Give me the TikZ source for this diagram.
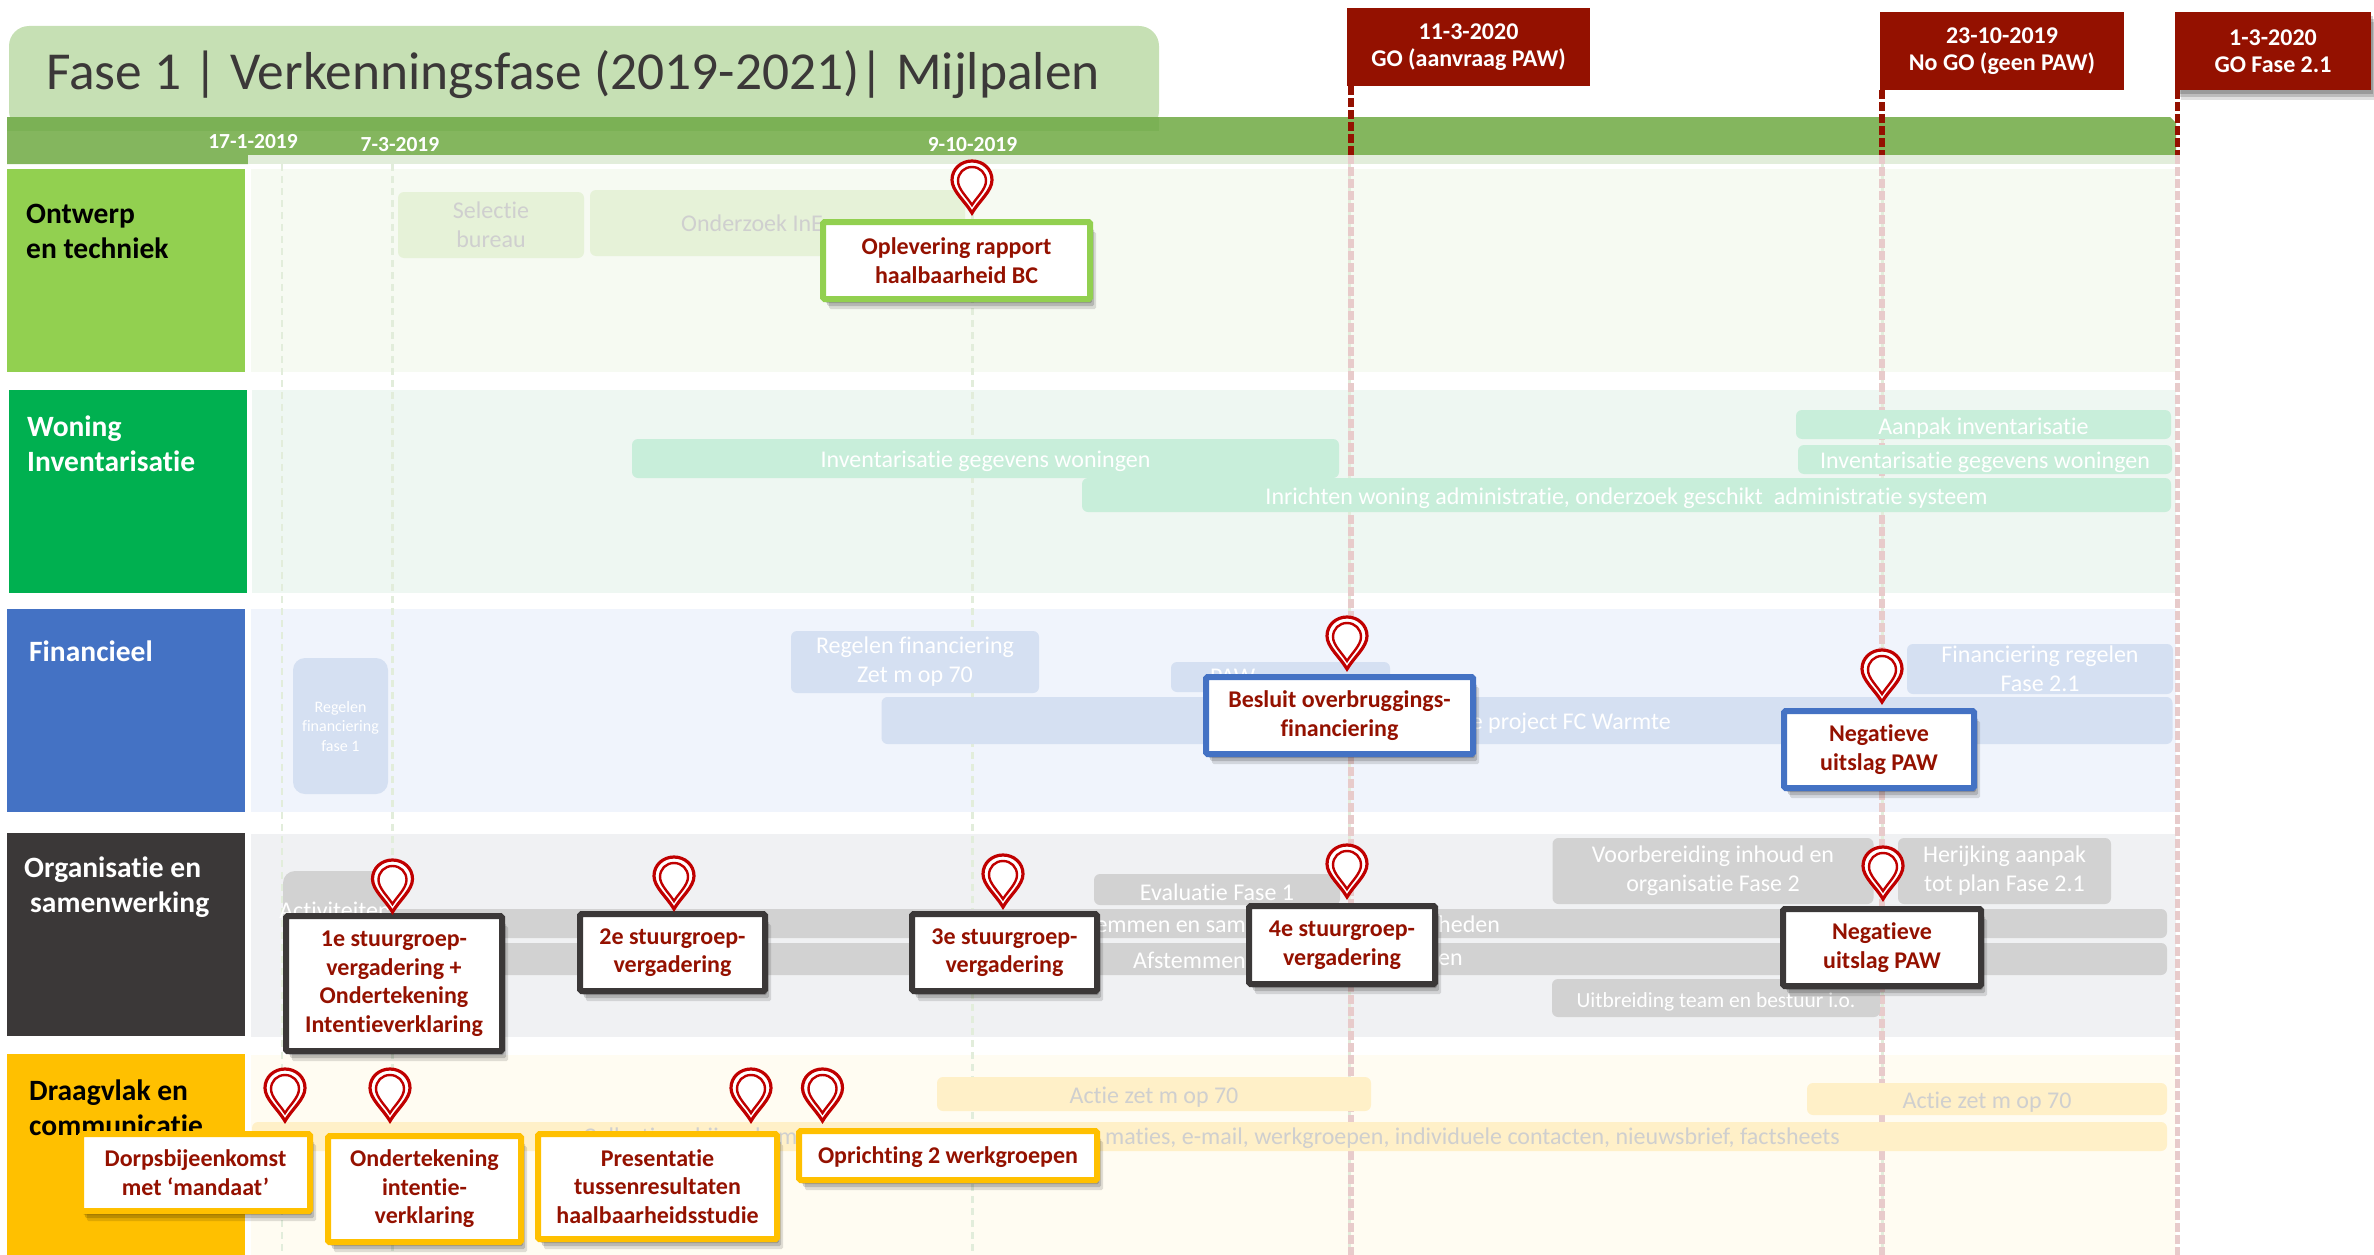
\documentclass[tikz,border=0pt]{standalone}
\usepackage{fontspec}
\setmainfont{Carlito}[Ligatures=NoCommon]
\usetikzlibrary{shadows}

\definecolor{titelgroen}{HTML}{C6E0B4}
\definecolor{balkgroen}{HTML}{84B65E}
\definecolor{balkover}{HTML}{7BB155}
\definecolor{stripgroen}{HTML}{E2EDDB}
\definecolor{rijontwerp}{HTML}{92D050}
\definecolor{rijwoning}{HTML}{00B050}
\definecolor{rijfinancieel}{HTML}{4472C4}
\definecolor{rijorganisatie}{HTML}{3B3838}
\definecolor{rijdraagvlak}{HTML}{FFC000}
\definecolor{vlakontwerp}{HTML}{F6FAF2}
\definecolor{vlakwoning}{HTML}{EEF7F2}
\definecolor{vlakfinancieel}{HTML}{F0F4FC}
\definecolor{vlakorganisatie}{HTML}{F0F1F3}
\definecolor{vlakdraagvlak}{HTML}{FFFCF2}
\definecolor{blokontwerp}{HTML}{E6F2D8}
\definecolor{blokwoning}{HTML}{C8EEDA}
\definecolor{blokfinancieel}{HTML}{D5E0F2}
\definecolor{blokorganisatie}{HTML}{D2D2D2}
\definecolor{blokdraagvlak}{HTML}{FFF0C8}
\definecolor{tekstgrijs}{HTML}{CFCFCF}
\definecolor{mijlrood}{HTML}{941100}
\definecolor{speldrood}{HTML}{C00000}
\definecolor{bleekrood}{HTML}{E8CBCB}
\definecolor{bleekgroen}{HTML}{E2EDDB}

\tikzset{
  rijkop/.style={inner sep=0, anchor=north west, align=left, font=\fontsize{29.5}{35}\bfseries\selectfont},
  blok/.style={inner sep=0, rounded corners=6, font=\fontsize{24}{29}\selectfont, text=white, align=center, execute at begin node={\rule{0pt}{23pt}}},
  bloklaag/.style={blok, execute at begin node={\rule{0pt}{28pt}}},
  blokgroot/.style={blok, rounded corners=12},
  tekstje/.style={inner sep=0, font=\fontsize{24}{29}\selectfont, text=white},
  datum/.style={inner sep=0, font=\fontsize{21.5}{24}\bfseries\selectfont, text=white},
  kopbox/.style={inner sep=0, fill=mijlrood, text=white, align=center, font=\fontsize{24}{27.5}\bfseries\selectfont, execute at begin node={\rule{0pt}{28pt}}},
  schaduw/.style={
    drop shadow={shadow xshift=2pt, shadow yshift=-4pt, opacity=.18, fill=black},
    drop shadow={shadow xshift=4pt, shadow yshift=-7pt, opacity=.16, fill=black},
    drop shadow={shadow xshift=6pt, shadow yshift=-10pt, opacity=.12, fill=black}},
  mijlpaal/.style={schaduw, inner sep=0, fill=white, line width=6, rounded corners=1.5, text=mijlrood, align=center, font=\fontsize{24}{28.5}\bfseries\selectfont, execute at begin node={\rule{0pt}{20pt}}},
  mijlpaallaag/.style={mijlpaal, execute at begin node={\rule{0pt}{25pt}}},
  datumlijn/.style={bleekgroen, line width=2.5, dash pattern=on 7 off 5},
  lijnsterk/.style={mijlrood, line width=5.5, dash pattern=on 9 off 3},
  lijnbleek/.style={bleekrood, line width=5.5, dash pattern=on 9 off 3},
  speld/.pic={
    \fill[white] (0,0) .. controls (-7,-12) and (-20,-22) .. (-20,-33) .. controls (-20,-44) and (-11,-52) .. (0,-52) .. controls (11,-52) and (20,-44) .. (20,-33) .. controls (20,-22) and (7,-12) .. (0,0) -- cycle;
    \draw[speldrood, line width=3.2, line join=miter] (0,0) .. controls (-7,-12) and (-20,-22) .. (-20,-33) .. controls (-20,-44) and (-11,-52) .. (0,-52) .. controls (11,-52) and (20,-44) .. (20,-33) .. controls (20,-22) and (7,-12) .. (0,0) -- cycle;
    \draw[speldrood, line width=2.4, line join=miter] (0,-8) .. controls (-5,-16) and (-14,-24) .. (-14,-32) .. controls (-14,-40) and (-8,-46) .. (0,-46) .. controls (8,-46) and (14,-40) .. (14,-32) .. controls (14,-24) and (5,-16) .. (0,-8) -- cycle;
  }
}

\begin{document}
\begin{tikzpicture}[x=1pt, y=-1pt]
  \useasboundingbox (0,0) rectangle (2374,1255);

  \fill[titelgroen, rounded corners=20] (9,26) -- (1159,26) -- (1159,131) -- (9,131) -- cycle;
  \fill[balkgroen] (7,117) -- (2170,117) -- (2176,123) -- (2176,155) -- (248,155) -- (248,164) -- (7,164) -- cycle;
  \fill[balkover] (7,117) rectangle (1159,131);
  \fill[stripgroen] (248,155) rectangle (2176,164);
  \node[inner sep=0, anchor=west, text=rijorganisatie, font=\fontsize{53.4}{60}\selectfont] (titel) at (46,75) {Fase 1 | Verkenningsfase (2019-2021)| Mijlpalen};

  \node[datum] (d1) at (253,142) {17-1-2019};
  \node[datum] (d2) at (400,145) {7-3-2019};
  \node[datum] (d3) at (972.5,145) {9-10-2019};

  \fill[vlakontwerp] (251,169) rectangle (2176,372);
  \fill[vlakwoning] (252,390) rectangle (2176,593);
  \fill[vlakfinancieel] (251,609) rectangle (2176,812);
  \fill[vlakorganisatie] (251,834) rectangle (2176,1037);
  \fill[vlakdraagvlak] (251,1055) rectangle (2176,1255);

  \fill[rijontwerp] (7,169) rectangle (245,372);
  \fill[rijwoning] (9,390) rectangle (247,593);
  \fill[rijfinancieel] (7,609) rectangle (245,812);
  \fill[rijorganisatie] (7,833) rectangle (245,1036);
  \fill[rijdraagvlak] (7,1054) rectangle (245,1255);
  \node[rijkop] (r1) at (26,204) {Ontwerp\\en techniek};
  \node[rijkop, text=white] (r2) at (27,416) {Woning\\Inventarisatie};
  \node[rijkop, text=white] (r3) at (29,641) {Financieel};
  \node[rijkop, text=white] (r4) at (24,857) {Organisatie en\\\hspace*{6pt}samenwerking};
  \node[rijkop] (r5) at (29,1080) {Draagvlak en\\communicatie};

  \coordinate (l1) at (282,164);
  \coordinate (l1e) at (282,1255);
  \coordinate (l2) at (392.5,164);
  \coordinate (l2e) at (392.5,1255);
  \coordinate (l3) at (972.5,164);
  \coordinate (l3e) at (972.5,1255);
  \coordinate (l4) at (1349.5,164);
  \coordinate (l4e) at (1349.5,1255);
  \coordinate (l5) at (1882.5,164);
  \coordinate (l5e) at (1882.5,1255);
  \draw[datumlijn] (l1) -- (l1e);
  \draw[datumlijn] (l2) -- (l2e);
  \draw[datumlijn] (l3) -- (l3e);
  \draw[datumlijn] (l4) -- (l4e);
  \draw[datumlijn] (l5) -- (l5e);

  \node[kopbox, schaduw, minimum width=196, minimum height=78] (k3) at (2273,51) {1-3-2020\\GO Fase 2.1};
  \node[kopbox, minimum width=243, minimum height=78] (k1) at (1468.5,47) {11-3-2020\\GO (aanvraag PAW)};
  \node[kopbox, minimum width=244, minimum height=78] (k2) at (2002,51) {23-10-2019\\No GO (geen PAW)};
  \coordinate (s1a) at (1351,86);
  \coordinate (s1b) at (1351,155);
  \coordinate (s1c) at (1351,1255);
  \coordinate (s2a) at (1882,90);
  \coordinate (s2b) at (1882,155);
  \coordinate (s2c) at (1882,1255);
  \coordinate (s3a) at (2177.5,90);
  \coordinate (s3b) at (2177.5,155);
  \coordinate (s3c) at (2177.5,1255);
  \draw[lijnbleek] (s1b) -- (s1c);
  \draw[lijnbleek] (s2b) -- (s2c);
  \draw[lijnbleek] (s3b) -- (s3c);
  \draw[lijnsterk] (s1a) -- (s1b);
  \draw[lijnsterk] (s2a) -- (s2b);
  \draw[lijnsterk] (s3a) -- (s3b);

  \node[blok, fill=blokontwerp, text=tekstgrijs, minimum width=186, minimum height=66] (a1) at (491,225) {Selectie\\bureau};
  \node[blok, fill=blokontwerp, minimum width=375, minimum height=66] (a2) at (777.5,223) {};
  \node[tekstje, text=tekstgrijs, anchor=west] (a2t) at (681,223) {Onderzoek InE};

  \node[blok, fill=blokwoning, minimum width=707, minimum height=39] (w1) at (985.5,458.5) {Inventarisatie gegevens woningen};
  \node[blok, fill=blokwoning, minimum width=1089, minimum height=34] (w2) at (1626.5,495) {Inrichten woning administratie, onderzoek geschikt\ \ administratie systeem};
  \node[blok, fill=blokwoning, minimum width=375, minimum height=29] (w3) at (1983.5,424.5) {Aanpak inventarisatie};
  \node[blok, fill=blokwoning, minimum width=374, minimum height=29] (w4) at (1985,459.5) {Inventarisatie gegevens woningen};

  \node[blokgroot, fill=blokfinancieel, font=\fontsize{16}{19.5}\selectfont, execute at begin node={}, minimum width=95, minimum height=136] (f1) at (340.5,726) {Regelen\\financiering\\fase 1};
  \node[bloklaag, fill=blokfinancieel, minimum width=248, minimum height=62] (f2) at (915,662) {Regelen financiering\\Zet m op 70};
  \node[blok, fill=blokfinancieel, minimum width=219, minimum height=30] (f3) at (1280.5,677) {};
  \node[tekstje, anchor=west] (f3t) at (1210,677) {PAW};
  \node[blok, fill=blokfinancieel, minimum width=1291, minimum height=47] (f4) at (1527,720.5) {};
  \node[tekstje, anchor=east] (f4t) at (1671,723) {e project FC Warmte};
  \node[blok, fill=blokfinancieel, minimum width=266, minimum height=50] (f5) at (2040,669) {Financiering regelen\\Fase 2.1};

  \node[blokgroot, fill=blokorganisatie, minimum width=112, minimum height=60] (o1) at (339,901) {};
  \node[tekstje] (o1t) at (335,910) {Activiteiten};
  \node[blok, fill=blokorganisatie, minimum width=1782, minimum height=29] (o2) at (1276,923.5) {};
  \node[blok, fill=blokorganisatie, minimum width=1782, minimum height=32] (o3) at (1276,959) {};
  \node[tekstje, anchor=east] (o2a) at (1246,924) {Afstemmen en sam};
  \node[tekstje, anchor=west] (o2b) at (1438,924) {heden};
  \node[tekstje, anchor=east] (o3a) at (1246,960) {Afstemmen};
  \node[tekstje, anchor=west] (o3b) at (1438,960) {en};
  \node[blok, fill=blokorganisatie, minimum width=246, minimum height=31] (o4) at (1217,889.5) {Evaluatie Fase 1};
  \node[bloklaag, fill=blokorganisatie, minimum width=321, minimum height=66] (o5) at (1713,871) {Voorbereiding inhoud en\\organisatie Fase 2};
  \node[bloklaag, fill=blokorganisatie, minimum width=213, minimum height=66] (o6) at (2004.5,871) {Herijking aanpak\\tot plan Fase 2.1};
  \node[blok, fill=blokorganisatie, font=\fontsize{21.5}{26}\selectfont, minimum width=328, minimum height=38] (o7) at (1716,998) {Uitbreiding team en bestuur i.o.};

  \node[blok, fill=blokdraagvlak, text=tekstgrijs, minimum width=434, minimum height=34] (c1) at (1154,1094) {Actie zet m op 70};
  \node[blok, fill=blokdraagvlak, text=tekstgrijs, minimum width=360, minimum height=32] (c2) at (1987,1099) {Actie zet m op 70};
  \node[blok, fill=blokdraagvlak, minimum width=1915, minimum height=29] (c3) at (1209.5,1136.5) {};
  \node[tekstje, text=tekstgrijs, anchor=west] (c3a) at (583,1138) {Collectieve bijeenkomste};
  \node[tekstje, text=tekstgrijs, anchor=east] (c3b) at (1840,1138) {maties, e-mail, werkgroepen, individuele contacten, nieuwsbrief, factsheets};

  \node[mijlpaal, draw=rijontwerp, minimum width=267, minimum height=77] (m1) at (956.5,260.5) {Oplevering rapport\\haalbaarheid BC};
  \node[mijlpaal, draw=rijfinancieel, minimum width=267, minimum height=77] (m2) at (1339.5,715.5) {Besluit overbruggings-\\financiering};
  \node[mijlpaallaag, draw=rijfinancieel, minimum width=190, minimum height=77] (m3) at (1879,749.5) {Negatieve\\uitslag PAW};
  \node[mijlpaal, draw=rijorganisatie, minimum width=216, minimum height=135] (m4) at (394,983.5) {1e stuurgroep-\\vergadering +\\Ondertekening\\Intentieverklaring};
  \node[mijlpaallaag, draw=rijorganisatie, minimum width=185, minimum height=77] (m5) at (672.5,952.5) {2e stuurgroep-\\vergadering};
  \node[mijlpaallaag, draw=rijorganisatie, minimum width=185, minimum height=77] (m6) at (1004.5,952.5) {3e stuurgroep-\\vergadering};
  \node[mijlpaallaag, draw=rijorganisatie, minimum width=186, minimum height=78] (m7) at (1342,945) {4e stuurgroep-\\vergadering};
  \node[mijlpaallaag, draw=rijorganisatie, minimum width=198, minimum height=77] (m8) at (1882,947.5) {Negatieve\\uitslag PAW};
  \node[mijlpaal, draw=rijdraagvlak, minimum width=229, minimum height=77] (m9) at (195.5,1172.5) {Dorpsbijeenkomst\\met ‘mandaat’};
  \node[mijlpaal, draw=rijdraagvlak, minimum width=193, minimum height=106] (m10) at (424.5,1189) {Ondertekening\\intentie-\\verklaring};
  \node[mijlpaal, draw=rijdraagvlak, minimum width=239, minimum height=105] (m11) at (657.5,1186.5) {Presentatie\\tussenresultaten\\haalbaarheidsstudie};
  \node[mijlpaal, draw=rijdraagvlak, minimum width=298, minimum height=49] (m12) at (948,1155.5) {Oprichting 2 werkgroepen};

  \pic (p1) at (972,213) {speld};
  \pic (p2) at (1347,669) {speld};
  \pic (p3) at (1882,702) {speld};
  \pic (p4) at (392.5,912) {speld};
  \pic (p5) at (674,909) {speld};
  \pic (p6) at (1003,907) {speld};
  \pic (p7) at (1347,897) {speld};
  \pic (p8) at (1883,899) {speld};
  \pic (p9) at (285,1121) {speld};
  \pic (p10) at (390,1121) {speld};
  \pic (p11) at (751,1121) {speld};
  \pic (p12) at (822.5,1121) {speld};
\end{tikzpicture}
\end{document}
